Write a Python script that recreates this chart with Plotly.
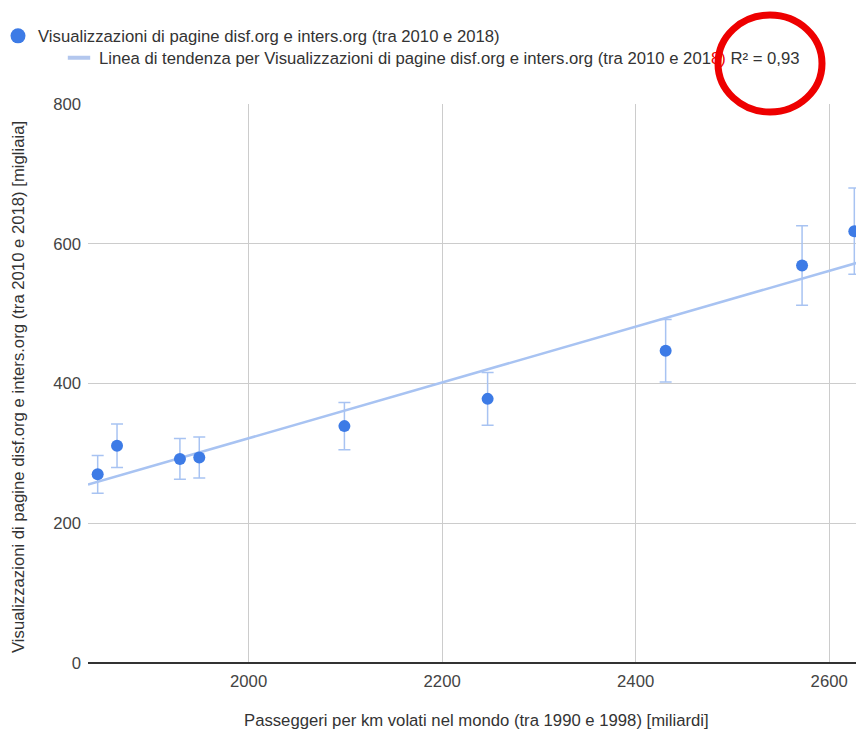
import numpy as np
import plotly.graph_objects as go

# Data
passeggeri_km = [1844, 1864, 1929, 1949, 2099, 2247, 2431, 2572, 2626]
visualizzazioni = [270, 311, 292, 294, 339, 378, 447, 569, 618]
errore_percento = 10

x_ticks = [2000, 2200, 2400, 2600]
y_ticks = [0, 200, 400, 600, 800]

serie_nome = "Visualizzazioni di pagine disf.org e inters.org (tra 2010 e 2018)"
# the "8)" lies under the red circle drawn on the chart
trend_nome = ("Linea di tendenza per Visualizzazioni di pagine disf.org e inters.org "
              "(tra 2010 e 201<span style='color:#ee0000'>8)</span> R² = 0,93")
x_titolo = "Passeggeri per km volati nel mondo (tra 1990 e 1998) [miliardi]"
y_titolo = "Visualizzazioni di pagine disf.org e inters.org (tra 2010 e 2018) [migliaia]"

x_range = [1834, 2636]
y_range = [0, 800]

# linear trendline fitted to the data
slope, intercept = np.polyfit(passeggeri_km, visualizzazioni, 1)
trend_x = np.array(x_range, dtype=float)
trend_y = slope * trend_x + intercept

FONT = "Liberation Sans, Arial, sans-serif"
FS = 16.7
BLUE = "#3d7be6"
LIGHT = "#a8c3f2"
TEXT = "#333333"

fig = go.Figure()

fig.add_trace(go.Scatter(
    x=trend_x, y=trend_y, mode="lines",
    line=dict(color=LIGHT, width=2.5),
    showlegend=False, hoverinfo="skip",
))

fig.add_trace(go.Scatter(
    x=passeggeri_km, y=visualizzazioni, mode="markers",
    marker=dict(color=BLUE, size=12),
    error_y=dict(type="percent", value=errore_percento, color=LIGHT,
                 thickness=1.5, width=6),
    name=serie_nome, showlegend=False,
))

# legend-only entries
fig.add_trace(go.Scatter(
    x=[None], y=[None], mode="markers",
    marker=dict(color=BLUE, size=15),
    name=serie_nome, legend="legend",
))
fig.add_trace(go.Scatter(
    x=[None], y=[None], mode="markers",
    marker=dict(symbol="line-ew", size=17, line=dict(color="#b3c7ee", width=4)),
    name=trend_nome, legend="legend2",
))

# page has an 8px body margin; figure sits at (8, 8) in the window
W, H = 856, 723
PL, PW = 80, 776
fig.update_layout(
    width=W, height=H,
    margin=dict(l=PL, r=0, t=96, b=68, autoexpand=False),
    paper_bgcolor="white", plot_bgcolor="white",
    font=dict(family=FONT, size=FS, color="#444444"),
    legend=dict(x=(-10 - PL) / PW, y=1 - 28 / H, xref="paper", yref="container",
                xanchor="left", yanchor="middle", bgcolor="rgba(0,0,0,0)",
                font=dict(size=FS, color=TEXT)),
    legend2=dict(x=(51 - PL) / PW, y=1 - 50 / H, xref="paper", yref="container",
                 xanchor="left", yanchor="middle", bgcolor="rgba(0,0,0,0)",
                 font=dict(size=FS, color=TEXT)),
    xaxis=dict(range=x_range, tickvals=x_ticks, showgrid=True,
               gridcolor="#cccccc", gridwidth=1, zeroline=False,
               showline=False, ticks="", tickfont=dict(size=FS, color="#444444"),
               ticklabelstandoff=6, automargin=False),
    yaxis=dict(range=y_range, tickvals=y_ticks, showgrid=True,
               gridcolor="#cccccc", gridwidth=1, zeroline=True,
               zerolinecolor="#333333", zerolinewidth=1.5,
               showline=False, ticks="", tickfont=dict(size=FS, color="#444444"),
               ticklabelstandoff=6, automargin=False),
    annotations=[
        dict(text=x_titolo, xref="paper", yref="paper", x=0.5, y=(663 - 720) / 559,
             xanchor="center", yanchor="middle", showarrow=False,
             font=dict(size=FS, color=TEXT)),
        dict(text=y_titolo, xref="paper", yref="paper", x=(18 - 88) / 776,
             y=(663 - 387) / 559, xanchor="center", yanchor="middle",
             textangle=-90, showarrow=False, font=dict(size=FS, color=TEXT)),
    ],
    shapes=[dict(type="circle", xref="paper", yref="paper", layer="above",
                 x0=(718 - 88) / 776, x1=(822 - 88) / 776,
                 y0=(663 - 112) / 559, y1=(663 - 15) / 559,
                 line=dict(color="#ee0000", width=7))],
)

fig.write_html("out.html")
